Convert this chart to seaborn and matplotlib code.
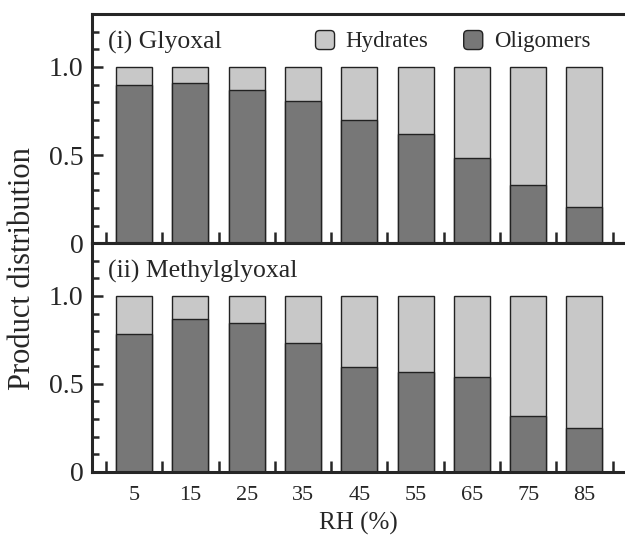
import pandas as pd
import matplotlib.pyplot as plt
import seaborn as sns
from matplotlib.patches import Patch, FancyBboxPatch
from matplotlib.legend_handler import HandlerPatch
from matplotlib.ticker import MultipleLocator, FixedLocator


rh = ['5', '15', '25', '35', '45', '55', '65', '75', '85']
glyoxal_oligomers = [0.897, 0.906, 0.868, 0.805, 0.700, 0.620, 0.485, 0.332, 0.206]
methylglyoxal_oligomers = [0.782, 0.870, 0.845, 0.734, 0.598, 0.565, 0.538, 0.320, 0.247]
total = [1.0] * len(rh)

panels = [('(i) Glyoxal', glyoxal_oligomers), ('(ii) Methylglyoxal', methylglyoxal_oligomers)]

light = '#c8c8c8'
dark = '#777777'

sns.set_style('ticks')
plt.rcParams['font.family'] = ['Liberation Serif', 'DejaVu Serif']

fig = plt.figure(figsize=(6.25, 5.38), dpi=100)
ax1 = fig.add_axes([0.147, 0.548, 0.853, 0.426])
ax2 = fig.add_axes([0.147, 0.123, 0.853, 0.425])


def rounded(legend, orig_handle, xdescent, ydescent, width, height, fontsize):
    s = min(width, height)
    return FancyBboxPatch((-xdescent + (width - s) / 2, -ydescent - 1), s, s,
                          boxstyle='round,pad=0,rounding_size=3')


for ax, (label, olig) in zip([ax1, ax2], panels):
    df = pd.DataFrame({'RH': rh, 'Total': total, 'Oligomers': olig})
    sns.barplot(data=df, x='RH', y='Total', color=light, edgecolor='#222222',
                linewidth=1.0, width=0.64, saturation=1, ax=ax)
    sns.barplot(data=df, x='RH', y='Oligomers', color=dark, edgecolor='#222222',
                linewidth=1.0, width=0.64, saturation=1, ax=ax)
    ax.set_xlim(-0.75, 8.72)
    ax.set_ylim(0, 1.3)
    ax.yaxis.set_major_locator(FixedLocator([0, 0.5, 1.0]))
    ax.set_yticklabels(['0', '0.5', '1.0'])
    ax.yaxis.set_minor_locator(MultipleLocator(0.1))
    ax.xaxis.set_minor_locator(FixedLocator([i - 0.5 for i in range(len(rh) + 1)]))
    ax.tick_params(axis='y', which='major', direction='in', length=8, width=1.8, labelsize=20, pad=6)
    ax.tick_params(axis='y', which='minor', direction='in', length=5, width=1.8)
    ax.tick_params(axis='x', which='major', length=0, labelsize=16, pad=10)
    ax.tick_params(axis='x', which='minor', direction='in', length=8, width=1.8)
    ax.set_xlabel('')
    ax.set_ylabel('')
    for side in ['left', 'bottom', 'top']:
        ax.spines[side].set_linewidth(2.2)
    ax.spines['right'].set_visible(False)
    ax.text(0.03, 0.875, label, transform=ax.transAxes, fontsize=18.5, va='center', ha='left')

ax1.tick_params(axis='x', labelbottom=False)

handles = [Patch(facecolor=light, edgecolor='#222222', label='Hydrates'),
           Patch(facecolor=dark, edgecolor='#222222', label='Oligomers')]
ax1.legend(handles=handles, loc='center right', bbox_to_anchor=(0.935, 0.885), ncol=2,
           frameon=False, fontsize=16.5, handlelength=0.9, handleheight=0.9,
           handletextpad=0.45, columnspacing=1.5, borderpad=0, borderaxespad=0,
           handler_map={Patch: HandlerPatch(patch_func=rounded)})

fig.text(0.036, 0.5, 'Product distribution', rotation=90, ha='center', va='center', fontsize=22)
ax2.set_xlabel('RH (%)', fontsize=18, labelpad=5)

plt.savefig('out.png', dpi=100)
